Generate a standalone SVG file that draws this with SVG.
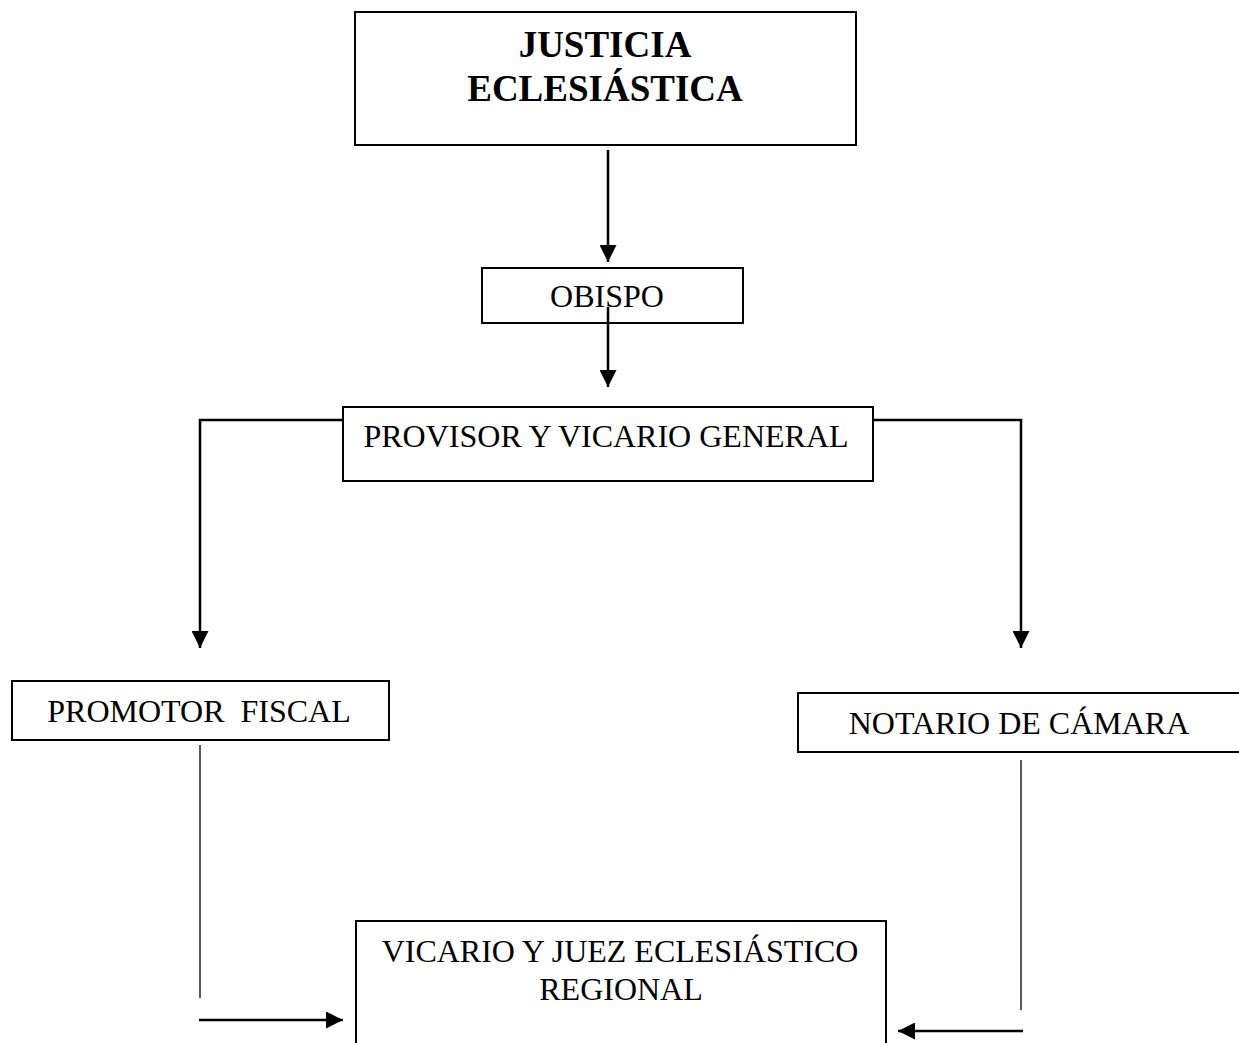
<svg xmlns="http://www.w3.org/2000/svg" width="1239" height="1043" viewBox="0 0 1239 1043">
<style>
.box{fill:#fff;stroke:#000;stroke-width:2}
.t{font-family:"Liberation Serif","Times New Roman",serif;font-size:32px;fill:#000;text-anchor:middle}
.tb{font-family:"Liberation Serif","Times New Roman",serif;font-size:37px;font-weight:bold;fill:#000;text-anchor:middle}
.c{fill:none;stroke:#000;stroke-width:2.5}
.thin{fill:none;stroke:#000;stroke-width:1.3}
</style>
<defs>
<marker id="ah" markerUnits="userSpaceOnUse" markerWidth="17" markerHeight="17" refX="17" refY="8.5" orient="auto" viewBox="0 0 17 17">
<path d="M0,0 L17,8.5 L0,17 z" fill="#000"/>
</marker>
</defs>
<rect width="1239" height="1043" fill="#fff"/>
<g id="connectors">
<path class="c" d="M608,150 V262" marker-end="url(#ah)"/>
<path class="c" d="M608,307 V387" marker-end="url(#ah)"/>
<path class="c" d="M343,420 H200 V648" marker-end="url(#ah)"/>
<path class="c" d="M873,420 H1021 V648" marker-end="url(#ah)"/>
<path class="thin" d="M200,745 V998"/>
<path class="c" d="M199,1020 H343" marker-end="url(#ah)"/>
<path class="thin" d="M1021,760 V1010"/>
<path class="c" d="M1023,1031 H898" marker-end="url(#ah)"/>
</g>
<g id="justicia">
<rect class="box" x="355" y="12" width="501" height="133"/>
<text class="tb" x="605" y="57">JUSTICIA</text>
<text class="tb" x="605" y="101">ECLESIÁSTICA</text>
</g>
<g id="obispo">
<rect class="box" x="482" y="268" width="261" height="55" fill="none" style="fill:none"/>
<text class="t" x="607" y="307">OBISPO</text>
</g>
<g id="provisor">
<rect class="box" x="343" y="407" width="530" height="74"/>
<text class="t" x="606" y="447">PROVISOR Y VICARIO GENERAL</text>
</g>
<g id="promotor">
<rect class="box" x="12" y="681" width="377" height="59"/>
<text class="t" x="199" y="722" xml:space="preserve" style="white-space:pre">PROMOTOR  FISCAL</text>
</g>
<g id="notario">
<rect class="box" x="798" y="693" width="446" height="59"/>
<text class="t" x="1019" y="734">NOTARIO DE CÁMARA</text>
</g>
<g id="vicario">
<rect class="box" x="356" y="921" width="530" height="130"/>
<text class="t" x="620" y="962">VICARIO Y JUEZ ECLESIÁSTICO</text>
<text class="t" x="621" y="1000">REGIONAL</text>
</g>
</svg>
